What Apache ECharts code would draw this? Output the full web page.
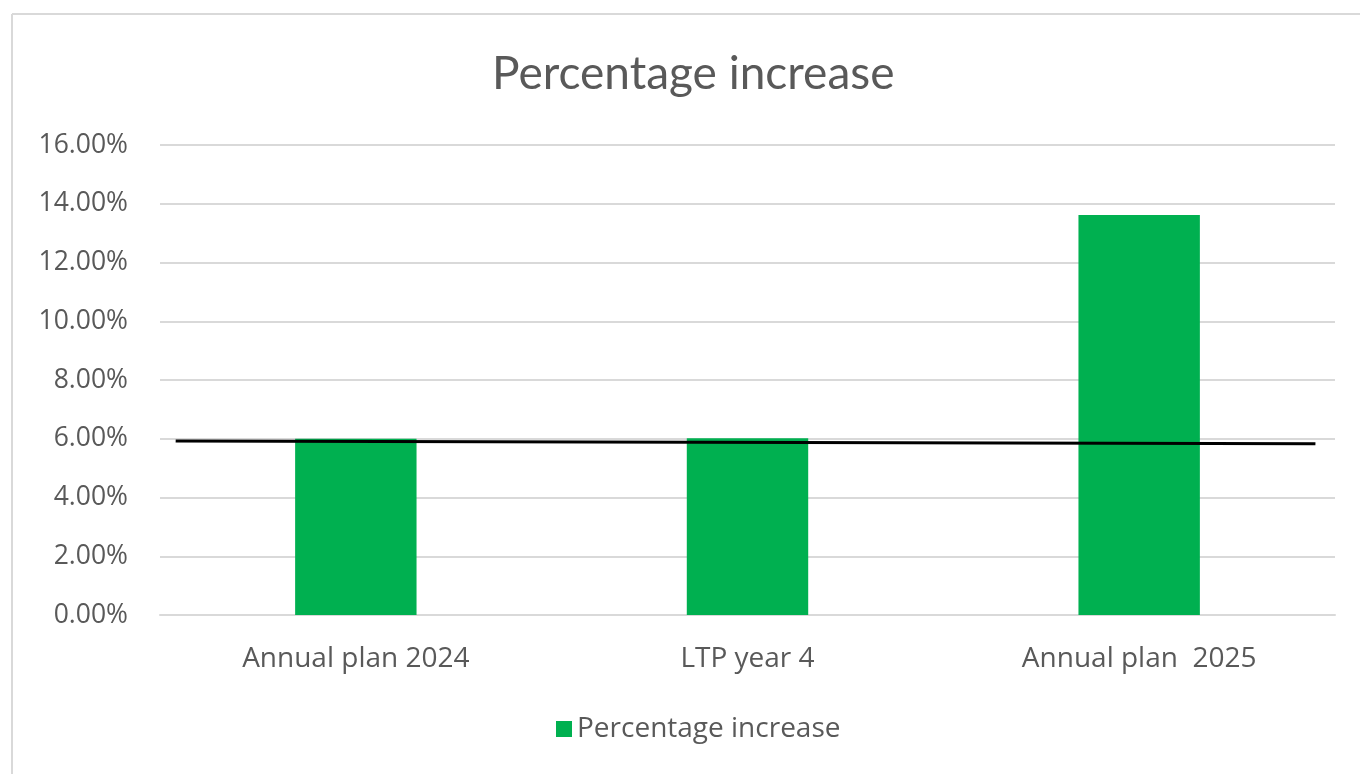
<!DOCTYPE html>
<html><head><meta charset="utf-8">
<script src="https://cdn.jsdelivr.net/npm/echarts@6/dist/echarts.min.js"></script>
<style>html,body{margin:0;padding:0;background:#fff}#c{width:1360px;height:774px}</style>
</head><body><div id="c"></div>
<script>
const categories = ['Annual plan 2024', 'LTP year 4', 'Annual plan  2025'];
const percentageIncrease = [6.0, 6.02, 13.62];
const referenceLineX = [-0.46, 2.45];
const referenceLineY = [5.92, 5.83];
const yTicks = { min: 0, max: 16, interval: 2 };

const FONT = 'Open Sans';
const chart = echarts.init(document.getElementById('c'));
chart.setOption({
  backgroundColor: '#fff',
  animation: false,
  title: { text: 'Percentage increase', left: 487, top: 46,
    textStyle: { fontFamily: 'Lato', fontSize: 46, fontWeight: 'normal', color: '#595959' } },
  legend: { data: ['Percentage increase'], top: 710, left: 551, icon: 'rect',
    itemWidth: 16, itemHeight: 16, itemGap: 10,
    textStyle: { fontFamily: FONT, fontSize: 28, color: '#595959' } },
  grid: { left: 160, right: 25, top: 145, bottom: 159 },
  xAxis: [
    { type: 'category', data: categories,
      axisLine: { lineStyle: { color: '#d9d9d9', width: 2 } }, axisTick: { show: false },
      axisLabel: { fontFamily: FONT, fontSize: 28, color: '#595959', margin: 30 } },
    { type: 'value', min: -0.5, max: 2.5, show: false }
  ],
  yAxis: { type: 'value', min: yTicks.min, max: yTicks.max, interval: yTicks.interval,
    axisLine: { show: false }, axisTick: { show: false },
    axisLabel: { fontFamily: FONT, fontSize: 26.5, color: '#595959', margin: 32,
      formatter: v => v.toFixed(2) + '%' },
    splitLine: { lineStyle: { color: '#d9d9d9', width: 2 } } },
  series: [
    { name: 'Percentage increase', type: 'bar', data: percentageIncrease, barWidth: '31%',
      itemStyle: { color: '#00B050' } },
    { name: 'Reference', type: 'line', xAxisIndex: 1, symbol: 'none',
      data: referenceLineX.map((x, i) => [x, referenceLineY[i]]),
      lineStyle: { color: '#000', width: 3 } }
  ],
  graphic: [
    { type: 'line', shape: { x1: 12, y1: 14, x2: 1360, y2: 14 }, style: { stroke: '#d9d9d9', lineWidth: 2 } },
    { type: 'line', shape: { x1: 12, y1: 14, x2: 12, y2: 774 }, style: { stroke: '#d9d9d9', lineWidth: 2 } }
  ]
});
</script></body></html>
